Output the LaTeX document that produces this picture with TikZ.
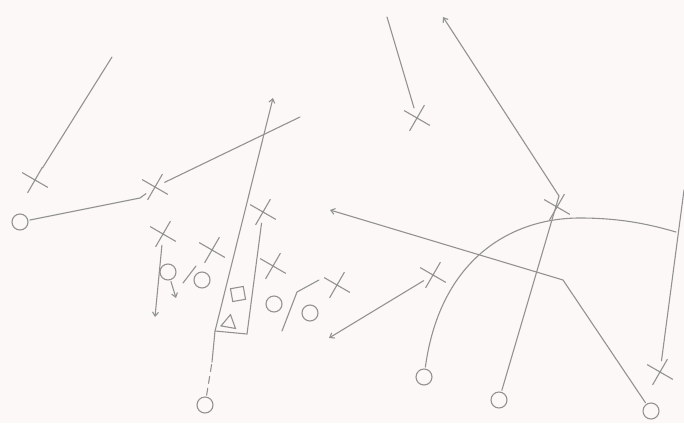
\documentclass[tikz,border=0pt]{standalone}
\usetikzlibrary{arrows.meta, shapes.geometric, shapes.misc}

\begin{document}
\begin{tikzpicture}[
  x=1pt, y=-1pt,
  line width=1.1pt,
  off/.style = {circle, draw=lineGray, minimum size=16pt, inner sep=0pt, outer sep=2pt},
  def/.style = {cross out, draw=lineGray, minimum size=13pt, inner sep=0pt, outer sep=4pt, rotate=15},
  ctr/.style = {rectangle, draw=lineGray, minimum size=13pt, inner sep=0pt, rotate=10},
  qbk/.style = {regular polygon, regular polygon sides=3, draw=lineGray, minimum size=17pt, inner sep=0pt, rotate=-10},
  route/.style = {draw=lineGray, line cap=round},
  arrow/.style = {route, -{Straight Barb[length=4pt, width=6pt]}}
  ]
\definecolor{lineGray}{HTML}{929292}
\definecolor{paper}{HTML}{FDF8F8}

\fill[paper] (0,0) rectangle (684,423);
\useasboundingbox (0,0) rectangle (684,423);

% offense
\node[off] (wr) at (20,222) {};
\node[off] (lt) at (168,272) {};
\node[off] (lg) at (202,280) {};
\node[ctr] (c) at (238,294) {};
\node[qbk] (qb) at (229,323) {};
\node[off] (rg) at (274,304) {};
\node[off] (rt) at (310,313) {};
\node[off] (rb) at (205,405) {};
\node[off] (te) at (424,377) {};
\node[off] (wr2) at (499,400) {};
\node[off] (wr3) at (651,411) {};

% defense
\node[def] (x1) at (35,180) {};
\node[def] (x2) at (155,187) {};
\node[def] (x3) at (163,234) {};
\node[def] (x4) at (212,250) {};
\node[def] (x5) at (263,212) {};
\node[def] (x6) at (273,266) {};
\node[def] (x7) at (337,285) {};
\node[def] (x8) at (433,275) {};
\node[def] (x9) at (417,118) {};
\node[def] (x10) at (557,207) {};
\node[def] (x11) at (660,372) {};

% route points
\coordinate (e1) at (112,57);
\coordinate (b1) at (140,198);
\coordinate (e2) at (300,117);
\coordinate (k1) at (212,362);
\coordinate (k2) at (215,331);
\coordinate (k3) at (222,303);
\coordinate (e3) at (273,98);
\coordinate (k4) at (247,334);
\coordinate (e4) at (155,317);
\coordinate (e5) at (176,298);
\coordinate (s1) at (183,283);
\coordinate (s2) at (196,266);
\coordinate (s3) at (282,331);
\coordinate (s4) at (297,292);
\coordinate (s5) at (319,280);
\coordinate (e6) at (329,338);
\coordinate (b2) at (563,280);
\coordinate (e7) at (330,210);
\coordinate (j1) at (676,232);
\coordinate (e8) at (684,190);
\coordinate (b3) at (559,196);
\coordinate (e9) at (443,17);
\coordinate (e10) at (387,17);

\draw[route] (x1) -- (e1);
\draw[route] (wr) -- (b1) -- (x2);
\draw[route] (x2) -- (e2);
\draw[route, dash pattern=on 7pt off 5pt] (rb) -- (k1);
\draw[arrow] (k1) -- (k2) -- (k3) -- (e3);
\draw[route] (x5) -- (k4) -- (k2);
\draw[arrow] (x3) -- (e4);
\draw[arrow] (lt) -- (e5);
\draw[route] (s1) -- (s2);
\draw[route] (s3) -- (s4) -- (s5);
\draw[arrow] (x8) -- (e6);
\draw[arrow] (wr3) -- (b2) -- (e7);
\draw[route] (te) .. controls (440,260) and (510,218) .. (580,218)
  .. controls (625,218) and (655,226) .. (j1);
\draw[route] (x11) -- (e8);
\draw[arrow] (wr2) -- (b3) -- (e9);
\draw[route] (x9) -- (e10);

\end{tikzpicture}
\end{document}
